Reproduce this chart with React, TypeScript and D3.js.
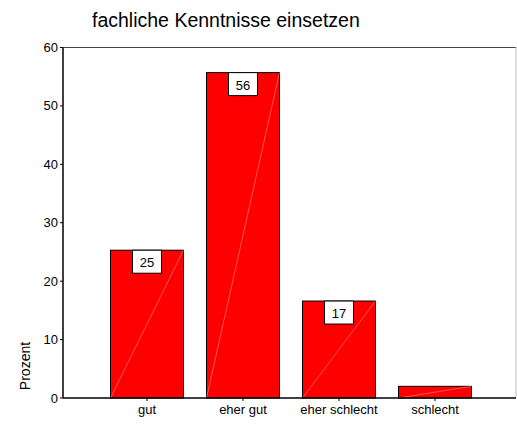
import React from "react";
import * as d3 from "d3";

const categories = ["gut", "eher gut", "eher schlecht", "schlecht"];
const values = [25.3, 55.7, 16.6, 2.0];
const labels = ["25", "56", "17", ""];
const yTicks = [0, 10, 20, 30, 40, 50, 60];
const title = "fachliche Kenntnisse einsetzen";
const yTitle = "Prozent";

const W = 517;
const H = 425;
const left = 63;
const right = 516;
const top = 47.5;
const bottom = 398;

export default function App() {
  const y = d3.scaleLinear().domain([0, 60]).range([bottom, top]);
  const x = d3
    .scaleBand()
    .domain(categories)
    .range([62.5, 519.5])
    .paddingInner(0.24)
    .paddingOuter(0.5);
  const bw = x.bandwidth();
  const font = "Arial, 'Liberation Sans', sans-serif";
  return (
    <svg
      width={W}
      height={H}
      style={{ position: "absolute", left: 0, top: 0, background: "#fff" }}
      fontFamily={font}
    >
      <text x={92} y={27} fontSize={19.5} fill="#000">
        {title}
      </text>
      <line x1={left} x2={right} y1={top} y2={top} stroke="#444" strokeWidth={1} />
      <line x1={right} x2={right} y1={top} y2={bottom} stroke="#bbb" strokeWidth={1} />
      {categories.map((c, i) => {
        const x0 = x(c)!;
        const yT = y(values[i]);
        return (
          <g key={c}>
            <rect x={x0} y={yT} width={bw} height={bottom - yT} fill="#ff0000" stroke="#000" strokeWidth={1} />
            {labels[i] && (
              <rect x={x0 + bw / 2 - 14.5} y={yT} width={29} height={23} fill="#fff" stroke="#000" strokeWidth={1} />
            )}
            <line x1={x0} y1={bottom} x2={x0 + bw} y2={yT} stroke="#ffb0b0" strokeWidth={0.6} opacity={0.8} />
            {labels[i] && (
              <text x={x0 + bw / 2} y={yT + 17} textAnchor="middle" fontSize={13} fill="#000">
                {labels[i]}
              </text>
            )}
            <line x1={x0 + bw / 2} x2={x0 + bw / 2} y1={bottom} y2={bottom + 3} stroke="#000" />
            <text x={x0 + bw / 2} y={414} textAnchor="middle" fontSize={13} fill="#000">
              {c}
            </text>
          </g>
        );
      })}
      <line x1={left} x2={left} y1={top} y2={bottom} stroke="#000" strokeWidth={1.5} />
      <line x1={left} x2={right} y1={bottom} y2={bottom} stroke="#000" strokeWidth={1.5} />
      {yTicks.map((t) => (
        <g key={t}>
          <line x1={left - 3} x2={left} y1={y(t)} y2={y(t)} stroke="#000" />
          <text x={58} y={y(t) + 4.5} textAnchor="end" fontSize={13} fill="#000">
            {t}
          </text>
        </g>
      ))}
      <text
        transform={`translate(29.5,366) rotate(-90)`}
        textAnchor="middle"
        fontSize={14}
        fill="#000"
      >
        {yTitle}
      </text>
    </svg>
  );
}
